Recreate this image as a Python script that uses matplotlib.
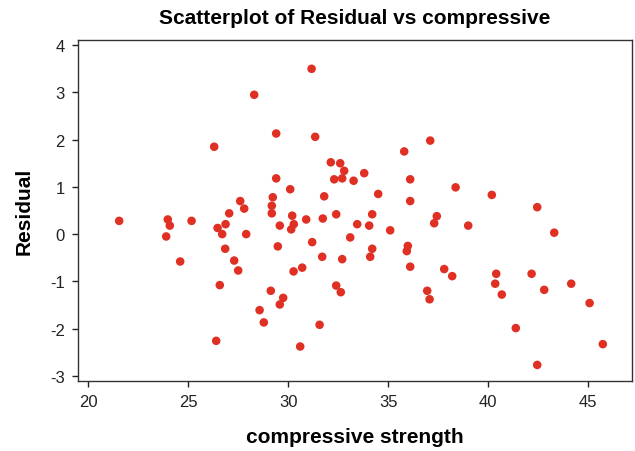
import matplotlib
matplotlib.use("Agg")
import matplotlib.pyplot as plt

plt.rcParams['font.family'] = ['Liberation Sans', 'DejaVu Sans']
plt.rcParams['axes.unicode_minus'] = False

# compressive strength vs residual
strength = [21.55, 23.98, 24.08, 23.9, 25.17, 24.6, 26.3, 26.47, 26.7, 26.87,
            27.05, 27.6, 27.8, 27.9, 26.85, 27.3, 27.5, 26.58, 26.4, 28.3,
            28.57, 28.78, 29.13, 29.23, 29.18, 29.18, 29.4, 29.4, 29.58, 29.48,
            29.58, 29.75, 30.1, 30.2, 30.28, 30.15, 30.27, 30.7, 30.6, 30.9,
            31.17, 31.35, 31.2, 31.57, 31.73, 31.8, 31.7, 32.13, 32.3, 32.4,
            32.4, 32.6, 32.63, 32.7, 32.7, 32.8, 33.1, 33.27, 33.45, 33.8,
            34.05, 34.2, 34.2, 34.1, 34.5, 35.1, 35.8, 36.1, 36.1, 35.98,
            35.93, 36.1, 36.95, 37.07, 37.1, 37.43, 37.3, 37.8, 38.2, 38.37,
            39.0, 40.18, 40.4, 40.35, 40.68, 41.38, 42.17, 42.45, 42.45, 42.8,
            43.3, 44.15, 45.07, 45.73]
residual = [0.28, 0.31, 0.18, -0.05, 0.28, -0.58, 1.85, 0.13, 0.0, 0.21,
            0.44, 0.70, 0.54, 0.0, -0.31, -0.56, -0.77, -1.08, -2.26, 2.95,
            -1.61, -1.87, -1.20, 0.78, 0.60, 0.44, 2.13, 1.18, 0.18, -0.26,
            -1.49, -1.35, 0.95, 0.39, 0.21, 0.10, -0.79, -0.71, -2.38, 0.31,
            3.50, 2.06, -0.17, -1.92, 0.33, 0.80, -0.48, 1.52, 1.16, 0.42,
            -1.09, 1.50, -1.23, 1.18, -0.53, 1.34, -0.07, 1.13, 0.21, 1.29,
            0.18, 0.42, -0.31, -0.48, 0.85, 0.08, 1.75, 1.16, 0.70, -0.25,
            -0.36, -0.69, -1.20, -1.38, 1.98, 0.38, 0.23, -0.74, -0.89, 0.99,
            0.18, 0.83, -0.84, -1.05, -1.28, -1.99, -0.84, 0.57, -2.77, -1.18,
            0.03, -1.05, -1.46, -2.33]

xticks = [20, 25, 30, 35, 40, 45]
yticks = [-3, -2, -1, 0, 1, 2, 3, 4]

fig = plt.figure(figsize=(6.35, 4.52), dpi=100)
ax = fig.add_axes([0.1228, 0.1549, 0.8725, 0.7544])

ax.scatter(strength, residual, s=38, color='#e03024', edgecolors='none', zorder=3)

ax.set_xlim(19.49, 47.19)
ax.set_ylim(-3.11, 4.11)
ax.set_xticks(xticks)
ax.set_yticks(yticks)
ax.tick_params(direction='out', length=4.5, width=1, labelsize=12,
               colors='#222222', pad=5)
for sp in ax.spines.values():
    sp.set_color('#333333')
    sp.set_linewidth(1)

ax.set_title('Scatterplot of Residual vs compressive', fontsize=15,
             fontweight='bold', pad=12)
ax.set_xlabel('compressive strength', fontsize=15, fontweight='bold', labelpad=13)
ax.set_ylabel('Residual', fontsize=15, fontweight='bold', labelpad=12)

fig.savefig('out.png', dpi=100)
